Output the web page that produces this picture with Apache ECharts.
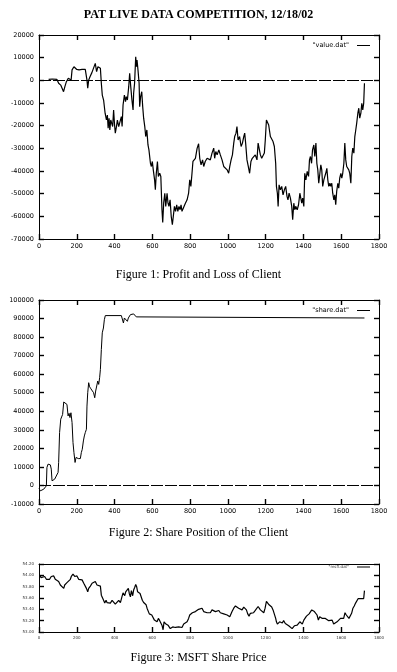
<!DOCTYPE html>
<html>
<head>
<meta charset="utf-8">
<script src="https://cdn.jsdelivr.net/npm/echarts@6/dist/echarts.min.js"></script>
<style>
  html, body { margin: 0; padding: 0; background: #fff; }
  #chart { width: 397px; height: 672px; }
</style>
</head>
<body>
<div id="chart"></div>
<script>
// [time, value]
const pnlPoints = [
  [51, 400], [70, 600], [95, 400], [104, -1300], [115, -2100], [122, -1600], [130, -5000], [137, -2800],
  [145, -600], [155, 900], [165, 1600], [170, 100], [175, 4600], [185, 6000], [192, 5700], [200, 4800],
  [212, 4600], [228, 4800], [237, 4300], [245, 4800], [254, 100], [258, -3500], [263, 100], [270, 1600],
  [280, 3400], [290, 3700], [298, 7500], [305, 3800], [312, 6000], [325, 5300], [330, -1300], [335, -6500],
  [342, -8700], [350, -14500], [357, -17500], [362, -15300], [366, -21100], [371, -16700], [375, -21900],
  [380, -17500], [386, -16700], [390, -20400], [395, -13100], [400, -19700], [404, -23300], [410, -20400],
  [415, -17500], [422, -20400], [430, -19700], [436, -16000], [440, -20400], [445, -10900], [452, -6500],
  [458, -9400], [462, -7200], [468, -8700], [475, -2800], [480, 3100], [485, -2100], [492, -8700],
  [498, -13100], [501, -5700], [506, -1300], [512, 10400], [516, 6000], [519, 9000], [524, 4600],
  [530, -1300], [533, -11600], [538, -7200], [544, -5000], [549, -11600], [554, -16700], [560, -20400],
  [565, -24800], [571, -21900], [577, -28500], [582, -30700], [590, -36600], [595, -38000], [600, -35800],
  [605, -39500], [612, -43900], [616, -48300], [621, -41000], [627, -35800], [632, -42400], [639, -41000],
  [645, -42400], [651, -57100], [655, -62700], [660, -54200], [666, -49800], [671, -55600], [678, -49800],
  [683, -54200], [688, -55600], [694, -52700], [700, -60000], [706, -63700], [711, -60000], [717, -55600],
  [723, -57800], [729, -54900], [735, -57800], [741, -55600], [747, -57100], [752, -54900], [757, -57800],
  [766, -57100], [775, -54200], [784, -52700], [792, -49800], [798, -43900], [804, -46800], [810, -41000],
  [815, -35800], [822, -35100], [828, -34400], [837, -30000], [845, -28000], [851, -34400], [858, -37300],
  [866, -35100], [872, -38000], [880, -35800], [890, -34400], [898, -33600], [907, -35100], [916, -32100],
  [925, -29900], [930, -34400], [936, -31400], [943, -32900], [952, -30700], [960, -32900], [969, -35100],
  [978, -38000], [987, -38800], [996, -39500], [1004, -41000], [1010, -38000], [1017, -35100], [1024, -32900],
  [1031, -27700], [1036, -24800], [1043, -23300], [1048, -20400], [1054, -26300], [1062, -24800],
  [1070, -29200], [1077, -27700], [1084, -24800], [1089, -23300], [1094, -27700], [1101, -35100],
  [1108, -38000], [1115, -41000], [1122, -35800], [1129, -34400], [1136, -33600], [1145, -32900],
  [1154, -35100], [1160, -27700], [1165, -27000], [1172, -32900], [1179, -34400], [1186, -35100],
  [1193, -32100], [1198, -26300], [1204, -17500], [1209, -16700], [1216, -19700], [1221, -20400],
  [1225, -24800], [1232, -24100], [1239, -27000], [1246, -29200], [1253, -36600], [1257, -46800],
  [1262, -49800], [1266, -55600], [1271, -46100], [1278, -48300], [1285, -46800], [1292, -50500],
  [1299, -48300], [1306, -46800], [1313, -51200], [1318, -52700], [1324, -49800], [1331, -52000],
  [1338, -55600], [1343, -61500], [1349, -54200], [1354, -57100], [1359, -55600], [1367, -57100],
  [1374, -54900], [1381, -49800], [1386, -52000], [1391, -54200], [1396, -52000], [1402, -55600],
  [1407, -41000], [1413, -43900], [1420, -40200], [1427, -42400], [1432, -35100], [1437, -33600],
  [1443, -36600], [1448, -30700], [1455, -28500], [1460, -33600], [1466, -27700], [1471, -36600],
  [1476, -39500], [1481, -45400], [1487, -41000], [1492, -37300], [1497, -39500], [1502, -46800],
  [1508, -43900], [1513, -43200], [1518, -41000], [1524, -38800], [1529, -43900], [1534, -46800],
  [1540, -45400], [1545, -46800], [1550, -45400], [1555, -49800], [1561, -52700], [1566, -50500],
  [1571, -54900], [1576, -49000], [1582, -45400], [1587, -47600], [1592, -43200], [1598, -41000],
  [1603, -43200], [1608, -41000], [1614, -36600], [1619, -27700], [1624, -35100], [1629, -38000],
  [1635, -37300], [1640, -39500], [1645, -41000], [1651, -45400], [1656, -33600], [1661, -29900],
  [1667, -32100], [1672, -24800], [1677, -21900], [1682, -18900], [1688, -14500], [1693, -12300],
  [1698, -16700], [1704, -14500], [1709, -10100], [1714, -13100], [1719, -10100], [1723, -1300]
];

const sharePoints = [
  [0, -1600], [7, -2900], [16, -3800], [25, -2000], [33, -1600], [39, -200], [42, 9700], [48, 11500],
  [60, 11100], [65, 8800], [69, 2500], [78, 2200], [83, 3400], [92, 4300], [101, 7000], [104, 12400],
  [109, 28500], [115, 35700], [120, 34800], [125, 38300], [131, 45000], [139, 44600], [148, 43700],
  [154, 37500], [159, 38900], [164, 36600], [169, 39200], [175, 33900], [180, 23100], [185, 17700],
  [191, 12400], [196, 15100], [201, 15900], [208, 14500], [219, 14500], [224, 17700], [229, 19500],
  [235, 24000], [240, 26700], [245, 28500], [251, 30300], [254, 42800], [258, 50000], [263, 55400],
  [268, 53200], [275, 52100], [282, 51400], [289, 50000], [295, 47300], [300, 50900], [305, 51800],
  [311, 56300], [316, 54500], [321, 58100], [325, 62500], [330, 73300], [335, 82300], [341, 84900],
  [346, 89400], [351, 91600], [436, 91600], [441, 90900], [447, 87600], [452, 90300], [457, 91200],
  [462, 90300], [468, 88500], [473, 90300], [478, 89400], [484, 92100], [501, 92500], [510, 92500],
  [515, 90900], [522, 90300], [1723, 90300]
];

const pricePoints = [
  [2, 54.01], [11, 53.96], [21, 53.95], [30, 53.98], [39, 53.93], [48, 53.91], [56, 53.93], [65, 53.98],
  [72, 53.95], [78, 53.99], [86, 53.93], [95, 53.95], [104, 53.89], [113, 53.83], [122, 53.86], [131, 53.77],
  [136, 53.83], [143, 53.81], [148, 53.87], [157, 53.86], [166, 53.93], [171, 53.98], [180, 54.02],
  [184, 54.05], [189, 53.98], [196, 53.95], [201, 53.99], [210, 53.93], [219, 53.91], [228, 53.92],
  [237, 53.86], [245, 53.87], [251, 53.77], [258, 53.71], [263, 53.77], [272, 53.81], [281, 53.86],
  [289, 53.83], [298, 53.89], [307, 53.83], [316, 53.86], [325, 53.81], [330, 53.65], [335, 53.62],
  [342, 53.56], [348, 53.51], [355, 53.56], [360, 53.52], [369, 53.55], [378, 53.51], [387, 53.56],
  [395, 53.54], [404, 53.49], [413, 53.51], [422, 53.56], [431, 53.52], [439, 53.62], [445, 53.69],
  [454, 53.64], [459, 53.71], [466, 53.68], [473, 53.77], [478, 53.68], [484, 53.62], [489, 53.73],
  [496, 53.64], [501, 53.74], [507, 53.79], [512, 53.84], [517, 53.80], [522, 53.71], [530, 53.71],
  [535, 53.68], [542, 53.65], [547, 53.56], [554, 53.52], [561, 53.54], [567, 53.48], [572, 53.42],
  [579, 53.39], [584, 53.32], [590, 53.34], [597, 53.30], [604, 53.33], [611, 53.21], [618, 53.24],
  [625, 53.18], [632, 53.24], [639, 53.20], [646, 53.21], [651, 53.12], [657, 53.04], [662, 53.18],
  [667, 53.16], [672, 53.14], [678, 53.15], [683, 53.12], [688, 53.14], [695, 53.06], [701, 53.04],
  [708, 53.09], [715, 53.11], [722, 53.08], [731, 53.11], [740, 53.09], [748, 53.12], [757, 53.08],
  [766, 53.14], [775, 53.12], [784, 53.18], [792, 53.24], [798, 53.30], [805, 53.33], [812, 53.34],
  [819, 53.36], [828, 53.36], [837, 53.38], [845, 53.40], [854, 53.37], [863, 53.42], [872, 53.36],
  [890, 53.34], [907, 53.34], [916, 53.39], [925, 53.40], [934, 53.36], [943, 53.34], [952, 53.38],
  [960, 53.34], [978, 53.32], [996, 53.30], [1010, 53.27], [1022, 53.36], [1031, 53.42], [1040, 53.46],
  [1048, 53.49], [1057, 53.42], [1066, 53.45], [1075, 53.39], [1084, 53.44], [1089, 53.46], [1098, 53.39],
  [1105, 53.32], [1112, 53.28], [1119, 53.33], [1128, 53.36], [1136, 53.34], [1145, 53.38], [1154, 53.39],
  [1160, 53.45], [1165, 53.46], [1172, 53.39], [1181, 53.36], [1190, 53.34], [1197, 53.42], [1204, 53.54],
  [1211, 53.52], [1218, 53.48], [1225, 53.45], [1232, 53.44], [1239, 53.39], [1246, 53.36], [1253, 53.24],
  [1257, 53.18], [1262, 53.14], [1267, 53.11], [1274, 53.18], [1281, 53.20], [1288, 53.16], [1295, 53.20],
  [1304, 53.15], [1313, 53.14], [1322, 53.11], [1331, 53.14], [1340, 53.06], [1345, 53.05], [1352, 53.11],
  [1359, 53.08], [1367, 53.12], [1375, 53.11], [1381, 53.18], [1387, 53.16], [1394, 53.14], [1402, 53.21],
  [1409, 53.24], [1416, 53.28], [1423, 53.27], [1430, 53.32], [1437, 53.33], [1444, 53.39], [1451, 53.42],
  [1458, 53.36], [1465, 53.36], [1472, 53.30], [1479, 53.21], [1486, 53.27], [1493, 53.30], [1500, 53.24],
  [1507, 53.27], [1516, 53.24], [1525, 53.22], [1534, 53.20], [1543, 53.18], [1552, 53.21], [1560, 53.14],
  [1569, 53.12], [1578, 53.18], [1587, 53.20], [1596, 53.24], [1604, 53.27], [1613, 53.24], [1620, 53.34],
  [1627, 53.30], [1634, 53.27], [1641, 53.24], [1648, 53.22], [1655, 53.33], [1662, 53.42], [1669, 53.46],
  [1676, 53.51], [1683, 53.54], [1690, 53.59], [1697, 53.56], [1705, 53.59], [1712, 53.61], [1719, 53.59],
  [1723, 53.73]
];

const seriesNames = ['"value.dat"', '"share.dat"', '"msft.dat"'];
const captions = ['Figure 1: Profit and Loss of Client', 'Figure 2: Share Position of the Client', 'Figure 3: MSFT Share Price'];
const mainTitle = 'PAT LIVE DATA COMPETITION, 12/18/02';

const labelFont = { fontFamily: 'DejaVu Sans', fontSize: 6.5, color: '#000' };
const tinyFont = { fontFamily: 'DejaVu Sans', fontSize: 4, color: '#333' };
const plain = v => String(v);

// gnuplot style: ticks pointing into the frame on every side
function tick(show) {
  return { show: show, inside: true, length: 5, lineStyle: { color: '#000', width: 1.4 } };
}

// axes sit on the frame, not on the zero line
function frameLine() {
  return { show: true, onZero: false, lineStyle: { color: '#000', width: 1 } };
}

function xAxes(grid, font, mirror) {
  return [
    {
      type: 'value', gridIndex: grid, min: 0, max: 1800, interval: 200, position: 'bottom',
      axisLine: frameLine(), splitLine: { show: false }, axisTick: tick(true),
      axisLabel: Object.assign({ margin: 4, formatter: plain }, font)
    },
    {
      type: 'value', gridIndex: grid, min: 0, max: 1800, interval: 200, position: 'top',
      axisLine: frameLine(), splitLine: { show: false }, axisTick: tick(mirror),
      axisLabel: { show: false }
    }
  ];
}

function yAxes(grid, min, max, interval, font, fmt) {
  return [
    {
      type: 'value', gridIndex: grid, min: min, max: max, interval: interval, position: 'left',
      axisLine: frameLine(), splitLine: { show: false }, axisTick: tick(true),
      axisLabel: Object.assign({ margin: 5, formatter: fmt }, font)
    },
    {
      type: 'value', gridIndex: grid, min: min, max: max, interval: interval, position: 'right',
      axisLine: frameLine(), splitLine: { show: false }, axisTick: tick(true),
      axisLabel: { show: false }
    }
  ];
}

function zeroLine() {
  return {
    silent: true, symbol: 'none', label: { show: false },
    lineStyle: { color: '#000', width: 1, type: [12, 2] },
    data: [{ yAxis: 0 }]
  };
}

function legendAt(name, top, font) {
  return {
    data: [name], right: 27, top: top, align: 'right', icon: 'rect', padding: 0,
    itemWidth: 13, itemHeight: 1, itemGap: 0, selectedMode: false,
    itemStyle: { color: '#000' },
    textStyle: Object.assign({ padding: [0, 3, 0, 0] }, font)
  };
}

function caption(text, top) {
  return { text: text, left: 'center', top: top, padding: 0, textStyle: { fontFamily: 'Liberation Serif', fontSize: 12, fontWeight: 'normal', color: '#000' } };
}

const chart = echarts.init(document.getElementById('chart'), null, { renderer: 'canvas' });

const option = {
  animation: false,
  backgroundColor: '#fff',
  title: [
    { text: mainTitle, left: 'center', top: 9, padding: 0, textStyle: { fontFamily: 'Liberation Serif', fontSize: 12, fontWeight: 'bold', color: '#000' } },
    caption(captions[0], 269),
    caption(captions[1], 527),
    caption(captions[2], 652)
  ],
  legend: [
    legendAt(seriesNames[0], 42, labelFont),
    legendAt(seriesNames[1], 307, labelFont),
    legendAt(seriesNames[2], 565, tinyFont)
  ],
  grid: [
    { left: 39, right: 18, top: 35, height: 204 },
    { left: 39, right: 18, top: 300, height: 204 },
    { left: 39, right: 18, top: 564, height: 68 }
  ],
  xAxis: [].concat(
    xAxes(0, labelFont, true),
    xAxes(1, labelFont, true),
    xAxes(2, tinyFont, false)
  ),
  yAxis: [].concat(
    yAxes(0, -70000, 20000, 10000, labelFont, plain),
    yAxes(1, -10000, 100000, 10000, labelFont, plain),
    yAxes(2, 53.0, 54.2, 0.2, tinyFont, v => v.toFixed(2))
  ),
  series: [
    {
      name: seriesNames[0], type: 'line', xAxisIndex: 0, yAxisIndex: 0,
      data: pnlPoints, showSymbol: false, symbol: 'none',
      lineStyle: { color: '#000', width: 1.2 }, itemStyle: { color: '#000' },
      markLine: zeroLine()
    },
    {
      name: seriesNames[1], type: 'line', xAxisIndex: 2, yAxisIndex: 2,
      data: sharePoints, showSymbol: false, symbol: 'none',
      lineStyle: { color: '#000', width: 1 }, itemStyle: { color: '#000' },
      markLine: zeroLine()
    },
    {
      name: seriesNames[2], type: 'line', xAxisIndex: 4, yAxisIndex: 4,
      data: pricePoints, showSymbol: false, symbol: 'none',
      lineStyle: { color: '#000', width: 1.2 }, itemStyle: { color: '#000' }
    }
  ]
};

chart.setOption(option);
</script>
</body>
</html>
